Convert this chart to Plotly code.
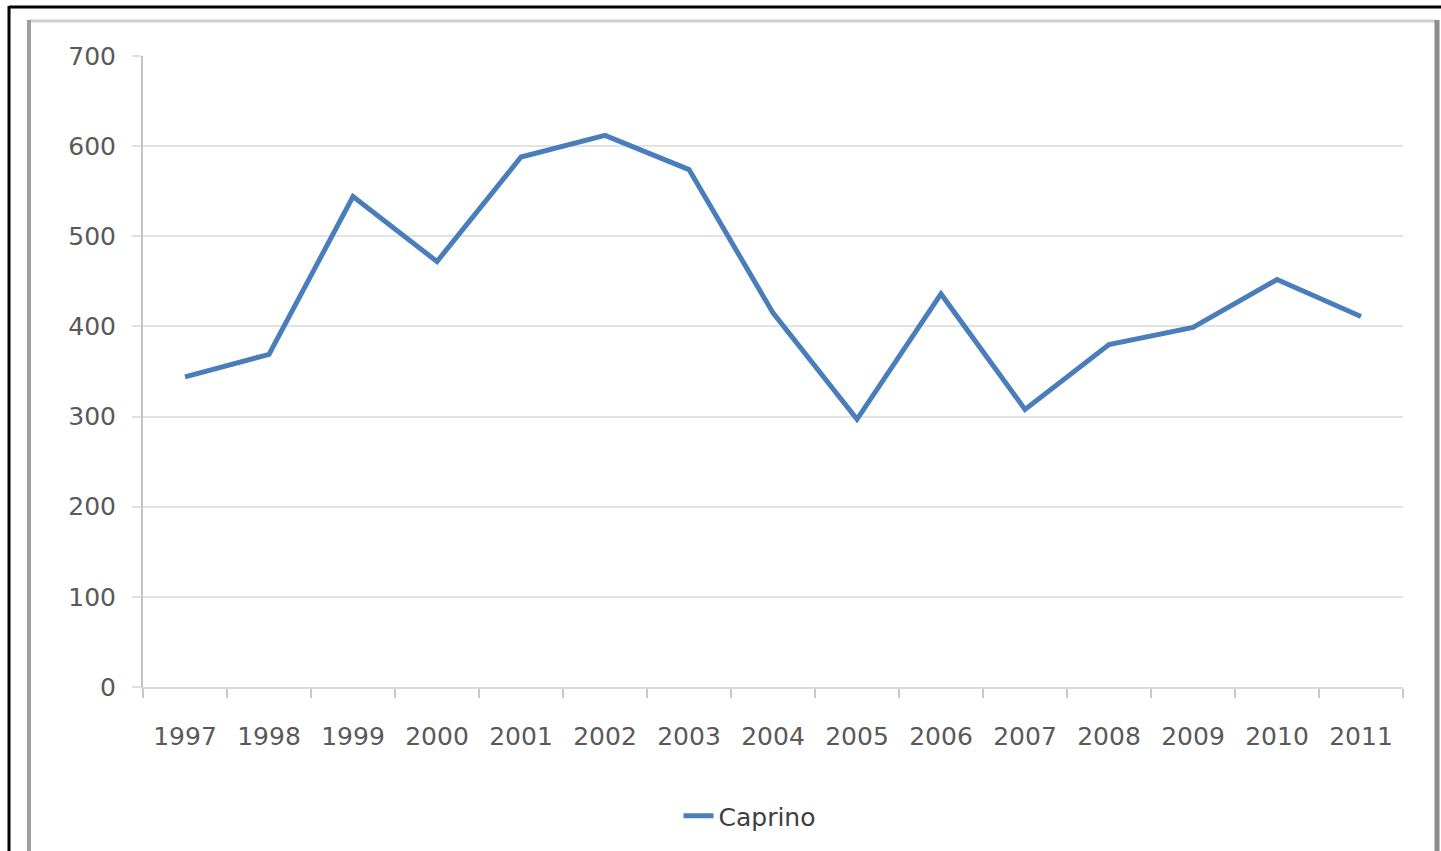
import plotly.graph_objects as go

years = ["1997", "1998", "1999", "2000", "2001", "2002", "2003", "2004",
         "2005", "2006", "2007", "2008", "2009", "2010", "2011"]
caprino = [344, 369, 544, 472, 588, 612, 574, 415, 297, 436, 308, 380, 399, 452, 411]
y_ticks = [0, 100, 200, 300, 400, 500, 600, 700]

W, H = 1441, 851
def px(x):
    return x / W
def py(y):
    return 1 - y / H

fig = go.Figure()
fig.add_trace(go.Scatter(
    x=years, y=caprino, mode="lines", name="Caprino",
    line=dict(color="#4A7EBB", width=5),
))

font_color = "#595959"
fig.update_layout(
    width=W, height=H,
    margin=dict(l=0, r=0, t=0, b=0),
    paper_bgcolor="white", plot_bgcolor="white",
    font=dict(family="DejaVu Sans", size=25, color=font_color),
    showlegend=True,
    legend=dict(orientation="h", x=px(750), y=py(816), xanchor="center", yanchor="middle",
                font=dict(size=25, color="#404040"), bgcolor="rgba(0,0,0,0)"),
    xaxis=dict(
        domain=[px(143), px(1403)], automargin=False,
        type="category", range=[-0.5, len(years) - 0.5],
        tickson="boundaries", ticks="outside", ticklen=9,
        tickcolor="#C8C8C8", tickwidth=2, showgrid=False,
        showline=True, linecolor="#D9D9D9", linewidth=2,
        tickfont=dict(size=25, color=font_color), ticklabelstandoff=26,
    ),
    yaxis=dict(
        domain=[py(687), py(56)], automargin=False,
        range=[0, 700], tickvals=y_ticks, ticks="outside", ticklen=9,
        tickcolor="#E0E0E0", tickwidth=2,
        showgrid=True, gridcolor="#E3E3E3", gridwidth=2,
        showline=True, linecolor="#C4C4C4", linewidth=2,
        zeroline=False, tickfont=dict(size=25, color=font_color),
        ticklabelstandoff=11,
    ),
)

shapes = [
    # gray frame
    dict(type="line", xref="paper", yref="paper", x0=px(29), x1=px(1436), y0=py(21), y1=py(21),
         line=dict(color="#CFCFCF", width=3)),
    dict(type="line", xref="paper", yref="paper", x0=px(29), x1=px(29), y0=py(20), y1=py(860),
         line=dict(color="#9E9E9E", width=4)),
    dict(type="line", xref="paper", yref="paper", x0=px(1437), x1=px(1437), y0=py(20), y1=py(860),
         line=dict(color="#8C8C8C", width=5)),
    # black outer border
    dict(type="line", xref="paper", yref="paper", x0=px(9), x1=px(1445), y0=py(7), y1=py(7),
         line=dict(color="black", width=3)),
    dict(type="line", xref="paper", yref="paper", x0=px(9), x1=px(9), y0=py(6), y1=py(860),
         line=dict(color="black", width=3)),
]
fig.update_layout(shapes=shapes)

fig.write_html("out.html", config={"displayModeBar": False},
               post_script="document.body.style.margin='0';document.body.style.overflow='hidden';")
